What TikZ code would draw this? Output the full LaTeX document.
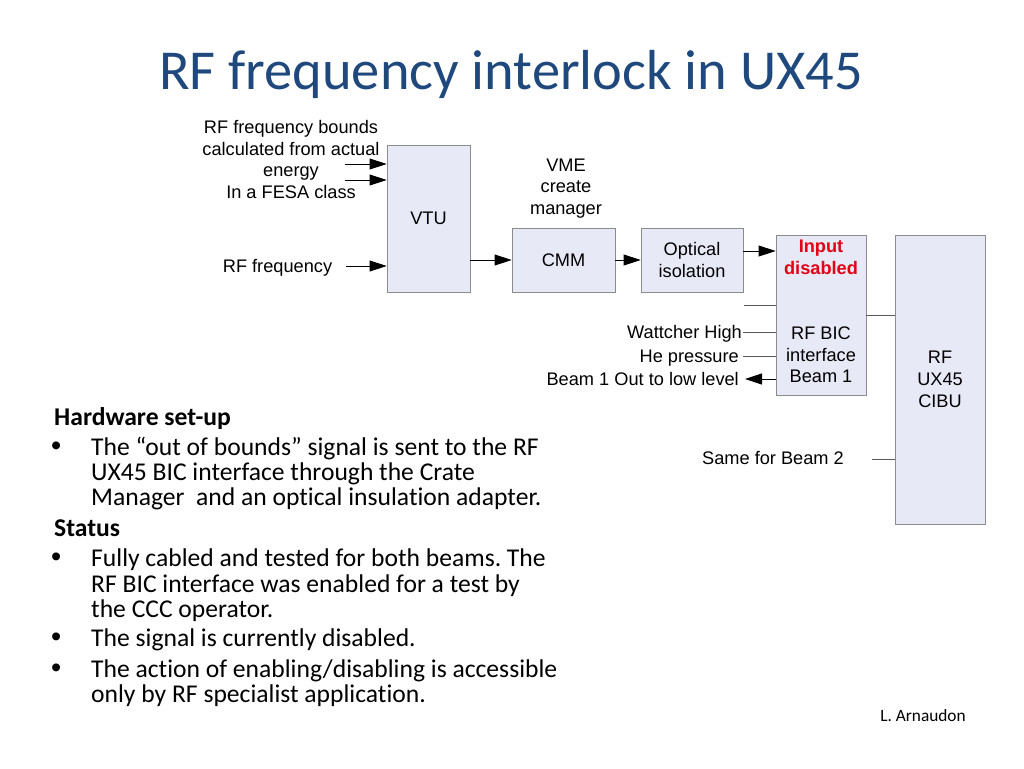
\documentclass[tikz,border=0pt]{standalone}
\usepackage{fontspec}
\setmainfont{Carlito}[Ligatures=NoCommon]
\newfontfamily\arial{Liberation Sans}
\usetikzlibrary{arrows.meta}
\definecolor{boxfill}{RGB}{231,233,246}
\definecolor{boxline}{RGB}{140,140,140}
\definecolor{wirecol}{RGB}{90,90,90}
\definecolor{titleblue}{RGB}{31,73,125}
\definecolor{alertred}{RGB}{228,0,20}
\frenchspacing
\begin{document}
\begin{tikzpicture}[x=1pt,y=-1pt,
  block/.style={draw=boxline, fill=boxfill, line width=0.8pt, inner sep=0pt, align=center, font=\arial\fontsize{18.2}{21.7}\selectfont},
  lab/.style={font=\arial\fontsize{18.2}{21.7}\selectfont, inner sep=0pt, align=center},
  arr/.style={draw=black, line width=0.8pt, -{Triangle[length=17pt,width=11pt]}},
  wire/.style={draw=wirecol, line width=0.8pt},
  body/.style={font=\fontsize{25.6}{25}\selectfont, inner sep=0pt, anchor=base west},
  bodyb/.style={font=\bfseries\fontsize{25.6}{25}\selectfont, inner sep=0pt, anchor=base west},
  dot/.style={font=\arial\fontsize{29}{29}\selectfont, inner sep=0pt, anchor=base west},
]
\useasboundingbox[fill=white] (0,0) rectangle (1024,768);

% title
\node[font=\fontsize{56.4}{64}\selectfont, text=titleblue, anchor=base, inner sep=0pt] (title) at (511,89) {RF frequency interlock in UX45};

% blocks
\node[block, minimum width=83pt, minimum height=147pt] (vtu) at (428.5,218.5) {VTU};
\node[block, minimum width=103pt, minimum height=64pt] (cmm) at (563.5,260) {CMM};
\node[block, minimum width=102pt, minimum height=64pt] (opt) at (692,260) {Optical\\isolation};
\node[block, minimum width=90pt, minimum height=160pt] (bic) at (821,315) {};
\node[block, minimum width=90pt, minimum height=289pt] (cibu) at (940,379.5) {RF\\UX45\\CIBU};
\node[lab, text=alertred, font=\arial\bfseries\fontsize{18.2}{21.7}\selectfont] (inp) at (821,257.5) {Input\\disabled};
\node[lab] (bictxt) at (821,355) {RF BIC\\interface\\Beam 1};

% labels
\node[lab] (bounds) at (291,159.5) {RF frequency bounds\\calculated from actual\\energy\\In a FESA class};
\node[lab, anchor=base] (rff) at (277.5,272) {RF frequency};
\node[lab] (vme) at (566,188.5) {VME\\create\\manager};
\node[lab, anchor=base east] (watt) at (742,338) {Wattcher High};
\node[lab, anchor=base east] (hep) at (739,362) {He pressure};
\node[lab, anchor=base east] (bout) at (739,385) {Beam 1 Out to low level};
\node[lab, anchor=base] (same) at (773,464) {Same for Beam 2};

% connectors
\coordinate (in1) at (345,164);
\coordinate (in2) at (345,180);
\coordinate (in3) at (346,266);
\draw[arr] (in1) -- (in1 -| vtu.west);
\draw[arr] (in2) -- (in2 -| vtu.west);
\draw[arr] (in3) -- (in3 -| vtu.west);
\draw[arr] (vtu.east |- cmm.west) -- (cmm.west);
\draw[arr] (cmm.east) -- (opt.west);
\draw[arr] ([yshift=9pt]opt.east) -- ([yshift=9pt]opt.east -| bic.west);
\coordinate (s0) at (744,305);
\coordinate (s1) at (743,332);
\coordinate (s2) at (743,356);
\coordinate (s3) at (745,379);
\coordinate (s4) at (872,459);
\draw[wire] (s0) -- (s0 -| bic.west);
\draw[wire] (s1) -- (s1 -| bic.west);
\draw[wire] (s2) -- (s2 -| bic.west);
\draw[arr] (s3 -| bic.west) -- (s3);
\draw[wire] (bic.east) -- (bic.east -| cibu.west);
\draw[wire] (s4) -- (s4 -| cibu.west);

% body text
\node[bodyb] (h1) at (54,425) {Hardware set-up};
\node[dot] (d1) at (51,455) {•};
\node[body] (t1a) at (91,455) {The “out of bounds” signal is sent to the RF};
\node[body] (t1b) at (91,480) {UX45 BIC interface through the Crate};
\node[body] (t1c) at (91,505) {Manager\ \ and an optical insulation adapter.};
\node[bodyb] (h2) at (54,536) {Status};
\node[dot] (d2) at (51,566) {•};
\node[body] (t2a) at (91,566) {Fully cabled and tested for both beams. The};
\node[body] (t2b) at (91,592) {RF BIC interface was enabled for a test by};
\node[body] (t2c) at (91,617) {the CCC operator.};
\node[dot] (d3) at (51,646) {•};
\node[body] (t3a) at (91,646) {The signal is currently disabled.};
\node[dot] (d4) at (51,677) {•};
\node[body] (t4a) at (91,677) {The action of enabling/disabling is accessible};
\node[body] (t4b) at (91,702) {only by RF specialist application.};

\node[font=\fontsize{17.3}{19}\selectfont, anchor=base, inner sep=0pt] (auth) at (923,721) {L. Arnaudon};
\end{tikzpicture}
\end{document}
